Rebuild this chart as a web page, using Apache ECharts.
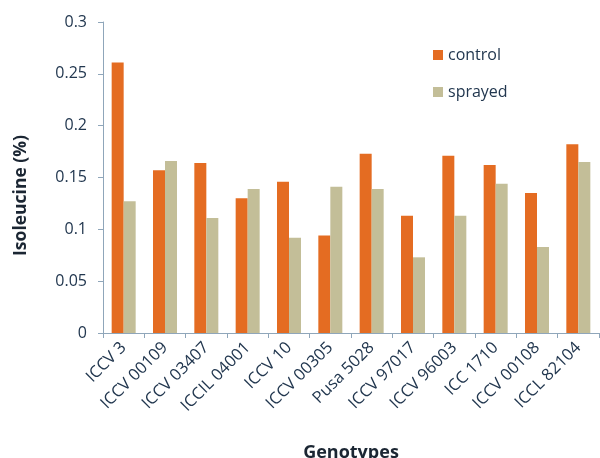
<!DOCTYPE html>
<html>
<head>
<meta charset="utf-8">
<script src="https://cdn.jsdelivr.net/npm/echarts@6/dist/echarts.min.js"></script>
<style>html,body{margin:0;padding:0;background:#fff}#c{width:600px;height:458px}</style>
</head>
<body>
<div id="c"></div>
<script>
var categories = ['ICCV 3','ICCV 00109','ICCV 03407','ICCIL 04001','ICCV 10','ICCV 00305','Pusa 5028','ICCV 97017','ICCV 96003','ICC 1710','ICCV 00108','ICCL 82104'];
var controlValues = [0.261,0.157,0.164,0.130,0.146,0.094,0.173,0.113,0.171,0.162,0.135,0.182];
var sprayedValues = [0.127,0.166,0.111,0.139,0.092,0.141,0.139,0.073,0.113,0.144,0.083,0.165];
var yTicks = [0,0.05,0.1,0.15,0.2,0.25,0.3];

var font = '"Open Sans", "Liberation Sans", sans-serif';
var txt = '#22374F';
var axisCol = '#8FA6BA';
var chart = echarts.init(document.getElementById('c'));
chart.setOption({
  animation: false,
  backgroundColor: '#ffffff',
  textStyle: {fontFamily: font},
  grid: {left: 103, right: 1, top: 22, bottom: 125, containLabel: false, outerBoundsMode: 'none'},
  legend: {
    orient: 'vertical', left: 428, top: 41,
    itemWidth: 10, itemHeight: 10, itemGap: 19,
    icon: 'rect',
    textStyle: {fontSize: 16, color: txt, fontFamily: font, lineHeight: 18},
    data: ['control','sprayed']
  },
  xAxis: {
    type: 'category', data: categories,
    axisLine: {lineStyle: {color: axisCol, width: 1}},
    axisTick: {show: true, length: 5, lineStyle: {color: axisCol}},
    axisLabel: {rotate: 45, fontSize: 16.5, color: txt, margin: 12, interval: 0, fontFamily: font},
    name: 'Genotypes', nameLocation: 'middle', nameGap: 111,
    nameTextStyle: {fontSize: 18, fontWeight: 'bold', color: '#1B2633', fontFamily: font}
  },
  yAxis: {
    type: 'value', min: 0, max: 0.3, interval: 0.05,
    axisLine: {show: true, lineStyle: {color: axisCol, width: 1}},
    axisTick: {show: true, length: 5, lineStyle: {color: axisCol}},
    splitLine: {show: false},
    axisLabel: {fontSize: 16, color: txt, margin: 16, fontFamily: font,
      formatter: function(v){ var i = yTicks.indexOf(Math.round(v*100)/100); return i>=0 ? String(yTicks[i]) : ''; }},
    name: 'Isoleucine (%)', nameLocation: 'middle', nameGap: 73,
    nameTextStyle: {fontSize: 17.5, fontWeight: 'bold', color: '#1B2633', fontFamily: font, padding: [0,36,0,0]}
  },
  series: [
    {name: 'control', type: 'bar', data: controlValues, barWidth: 12, barGap: '0%',
     itemStyle: {color: '#E46C22'}},
    {name: 'sprayed', type: 'bar', data: sprayedValues, barWidth: 12, barGap: '0%',
     itemStyle: {color: '#C3BE98'}}
  ]
});
</script>
</body>
</html>
